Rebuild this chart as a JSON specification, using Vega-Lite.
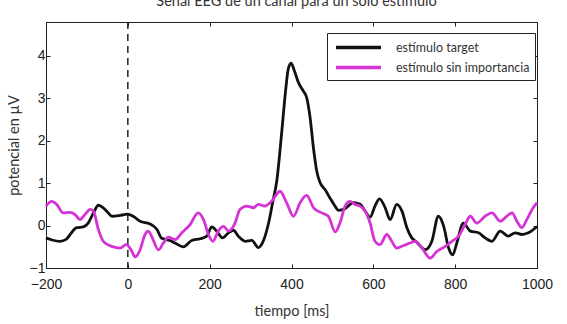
{
  "$schema": "https://vega.github.io/schema/vega-lite/v6.json",
  "width": 491,
  "height": 246,
  "autosize": {"type": "none"},
  "padding": {"left": 46, "top": 22, "right": 30, "bottom": 56},
  "background": "white",
  "title": {"text": "Señal EEG de un canal para un solo estímulo", "font": "Lato", "fontSize": 14.5, "fontWeight": "normal", "color": "#333", "offset": 12, "dx": 5},
  "config": {
    "view": {"stroke": "#222", "strokeWidth": 1},
    "axis": {"labelFont": "Liberation Sans", "labelFontSize": 14, "labelColor": "#222", "titleFont": "Lato", "titleFontSize": 14.5, "titleFontWeight": "normal", "titleColor": "#333", "grid": false, "domainColor": "#222", "tickColor": "#222", "tickSize": -4, "domain": true}
  },
  "datasets": {
    "eeg": [
      {"t": -200, "v": -0.29, "s": "estímulo target"},
      {"t": -185, "v": -0.34, "s": "estímulo target"},
      {"t": -166, "v": -0.37, "s": "estímulo target"},
      {"t": -150, "v": -0.32, "s": "estímulo target"},
      {"t": -141, "v": -0.21, "s": "estímulo target"},
      {"t": -125, "v": -0.05, "s": "estímulo target"},
      {"t": -109, "v": -0.03, "s": "estímulo target"},
      {"t": -97, "v": 0.06, "s": "estímulo target"},
      {"t": -84, "v": 0.3, "s": "estímulo target"},
      {"t": -72, "v": 0.48, "s": "estímulo target"},
      {"t": -60, "v": 0.42, "s": "estímulo target"},
      {"t": -48, "v": 0.3, "s": "estímulo target"},
      {"t": -39, "v": 0.22, "s": "estímulo target"},
      {"t": -19, "v": 0.24, "s": "estímulo target"},
      {"t": -1, "v": 0.27, "s": "estímulo target"},
      {"t": 13, "v": 0.22, "s": "estímulo target"},
      {"t": 30, "v": 0.1, "s": "estímulo target"},
      {"t": 54, "v": 0.04, "s": "estímulo target"},
      {"t": 71, "v": -0.09, "s": "estímulo target"},
      {"t": 83, "v": -0.3, "s": "estímulo target"},
      {"t": 103, "v": -0.35, "s": "estímulo target"},
      {"t": 115, "v": -0.41, "s": "estímulo target"},
      {"t": 136, "v": -0.5, "s": "estímulo target"},
      {"t": 156, "v": -0.35, "s": "estímulo target"},
      {"t": 177, "v": -0.31, "s": "estímulo target"},
      {"t": 193, "v": -0.25, "s": "estímulo target"},
      {"t": 205, "v": -0.03, "s": "estímulo target"},
      {"t": 217, "v": -0.13, "s": "estímulo target"},
      {"t": 231, "v": -0.29, "s": "estímulo target"},
      {"t": 246, "v": -0.17, "s": "estímulo target"},
      {"t": 258, "v": -0.11, "s": "estímulo target"},
      {"t": 270, "v": -0.25, "s": "estímulo target"},
      {"t": 287, "v": -0.37, "s": "estímulo target"},
      {"t": 303, "v": -0.35, "s": "estímulo target"},
      {"t": 319, "v": -0.52, "s": "estímulo target"},
      {"t": 329, "v": -0.41, "s": "estímulo target"},
      {"t": 344, "v": 0.06, "s": "estímulo target"},
      {"t": 354, "v": 0.55, "s": "estímulo target"},
      {"t": 364, "v": 1.05, "s": "estímulo target"},
      {"t": 376, "v": 2.19, "s": "estímulo target"},
      {"t": 386, "v": 3.22, "s": "estímulo target"},
      {"t": 392, "v": 3.69, "s": "estímulo target"},
      {"t": 399, "v": 3.83, "s": "estímulo target"},
      {"t": 407, "v": 3.65, "s": "estímulo target"},
      {"t": 417, "v": 3.37, "s": "estímulo target"},
      {"t": 429, "v": 3.17, "s": "estímulo target"},
      {"t": 437, "v": 3.02, "s": "estímulo target"},
      {"t": 445, "v": 2.58, "s": "estímulo target"},
      {"t": 454, "v": 1.8, "s": "estímulo target"},
      {"t": 462, "v": 1.27, "s": "estímulo target"},
      {"t": 470, "v": 1.01, "s": "estímulo target"},
      {"t": 482, "v": 0.85, "s": "estímulo target"},
      {"t": 494, "v": 0.65, "s": "estímulo target"},
      {"t": 505, "v": 0.48, "s": "estímulo target"},
      {"t": 515, "v": 0.36, "s": "estímulo target"},
      {"t": 531, "v": 0.4, "s": "estímulo target"},
      {"t": 551, "v": 0.54, "s": "estímulo target"},
      {"t": 568, "v": 0.5, "s": "estímulo target"},
      {"t": 580, "v": 0.34, "s": "estímulo target"},
      {"t": 592, "v": 0.2, "s": "estímulo target"},
      {"t": 604, "v": 0.46, "s": "estímulo target"},
      {"t": 615, "v": 0.63, "s": "estímulo target"},
      {"t": 629, "v": 0.42, "s": "estímulo target"},
      {"t": 641, "v": 0.14, "s": "estímulo target"},
      {"t": 657, "v": 0.5, "s": "estímulo target"},
      {"t": 670, "v": 0.34, "s": "estímulo target"},
      {"t": 682, "v": -0.05, "s": "estímulo target"},
      {"t": 694, "v": -0.29, "s": "estímulo target"},
      {"t": 706, "v": -0.39, "s": "estímulo target"},
      {"t": 727, "v": -0.57, "s": "estímulo target"},
      {"t": 743, "v": -0.37, "s": "estímulo target"},
      {"t": 759, "v": 0.22, "s": "estímulo target"},
      {"t": 772, "v": -0.02, "s": "estímulo target"},
      {"t": 784, "v": -0.53, "s": "estímulo target"},
      {"t": 794, "v": -0.69, "s": "estímulo target"},
      {"t": 804, "v": -0.41, "s": "estímulo target"},
      {"t": 820, "v": 0.06, "s": "estímulo target"},
      {"t": 837, "v": -0.13, "s": "estímulo target"},
      {"t": 857, "v": -0.17, "s": "estímulo target"},
      {"t": 873, "v": -0.29, "s": "estímulo target"},
      {"t": 890, "v": -0.37, "s": "estímulo target"},
      {"t": 910, "v": -0.13, "s": "estímulo target"},
      {"t": 930, "v": -0.25, "s": "estímulo target"},
      {"t": 947, "v": -0.17, "s": "estímulo target"},
      {"t": 963, "v": -0.21, "s": "estímulo target"},
      {"t": 979, "v": -0.17, "s": "estímulo target"},
      {"t": 1000, "v": -0.02, "s": "estímulo target"},
      {"t": -200, "v": 0.46, "s": "estímulo sin importancia"},
      {"t": -186, "v": 0.57, "s": "estímulo sin importancia"},
      {"t": -174, "v": 0.5, "s": "estímulo sin importancia"},
      {"t": -158, "v": 0.3, "s": "estímulo sin importancia"},
      {"t": -141, "v": 0.31, "s": "estímulo sin importancia"},
      {"t": -129, "v": 0.26, "s": "estímulo sin importancia"},
      {"t": -117, "v": 0.14, "s": "estímulo sin importancia"},
      {"t": -105, "v": 0.26, "s": "estímulo sin importancia"},
      {"t": -92, "v": 0.38, "s": "estímulo sin importancia"},
      {"t": -84, "v": 0.34, "s": "estímulo sin importancia"},
      {"t": -72, "v": -0.09, "s": "estímulo sin importancia"},
      {"t": -60, "v": -0.37, "s": "estímulo sin importancia"},
      {"t": -39, "v": -0.49, "s": "estímulo sin importancia"},
      {"t": -19, "v": -0.53, "s": "estímulo sin importancia"},
      {"t": -4, "v": -0.45, "s": "estímulo sin importancia"},
      {"t": 10, "v": -0.61, "s": "estímulo sin importancia"},
      {"t": 18, "v": -0.74, "s": "estímulo sin importancia"},
      {"t": 30, "v": -0.57, "s": "estímulo sin importancia"},
      {"t": 42, "v": -0.21, "s": "estímulo sin importancia"},
      {"t": 50, "v": -0.13, "s": "estímulo sin importancia"},
      {"t": 58, "v": -0.25, "s": "estímulo sin importancia"},
      {"t": 75, "v": -0.57, "s": "estímulo sin importancia"},
      {"t": 87, "v": -0.41, "s": "estímulo sin importancia"},
      {"t": 99, "v": -0.27, "s": "estímulo sin importancia"},
      {"t": 115, "v": -0.33, "s": "estímulo sin importancia"},
      {"t": 132, "v": -0.17, "s": "estímulo sin importancia"},
      {"t": 152, "v": 0.02, "s": "estímulo sin importancia"},
      {"t": 172, "v": 0.3, "s": "estímulo sin importancia"},
      {"t": 185, "v": 0.14, "s": "estímulo sin importancia"},
      {"t": 197, "v": -0.21, "s": "estímulo sin importancia"},
      {"t": 208, "v": -0.37, "s": "estímulo sin importancia"},
      {"t": 221, "v": -0.13, "s": "estímulo sin importancia"},
      {"t": 234, "v": -0.02, "s": "estímulo sin importancia"},
      {"t": 246, "v": -0.13, "s": "estímulo sin importancia"},
      {"t": 262, "v": 0.06, "s": "estímulo sin importancia"},
      {"t": 274, "v": 0.38, "s": "estímulo sin importancia"},
      {"t": 291, "v": 0.46, "s": "estímulo sin importancia"},
      {"t": 307, "v": 0.42, "s": "estímulo sin importancia"},
      {"t": 319, "v": 0.5, "s": "estímulo sin importancia"},
      {"t": 335, "v": 0.46, "s": "estímulo sin importancia"},
      {"t": 352, "v": 0.58, "s": "estímulo sin importancia"},
      {"t": 372, "v": 0.81, "s": "estímulo sin importancia"},
      {"t": 388, "v": 0.54, "s": "estímulo sin importancia"},
      {"t": 405, "v": 0.22, "s": "estímulo sin importancia"},
      {"t": 421, "v": 0.54, "s": "estímulo sin importancia"},
      {"t": 437, "v": 0.71, "s": "estímulo sin importancia"},
      {"t": 454, "v": 0.42, "s": "estímulo sin importancia"},
      {"t": 474, "v": 0.3, "s": "estímulo sin importancia"},
      {"t": 490, "v": 0.22, "s": "estímulo sin importancia"},
      {"t": 507, "v": -0.15, "s": "estímulo sin importancia"},
      {"t": 519, "v": 0.08, "s": "estímulo sin importancia"},
      {"t": 531, "v": 0.46, "s": "estímulo sin importancia"},
      {"t": 543, "v": 0.57, "s": "estímulo sin importancia"},
      {"t": 555, "v": 0.5, "s": "estímulo sin importancia"},
      {"t": 568, "v": 0.46, "s": "estímulo sin importancia"},
      {"t": 580, "v": 0.34, "s": "estímulo sin importancia"},
      {"t": 592, "v": 0.06, "s": "estímulo sin importancia"},
      {"t": 604, "v": -0.37, "s": "estímulo sin importancia"},
      {"t": 616, "v": -0.45, "s": "estímulo sin importancia"},
      {"t": 633, "v": -0.21, "s": "estímulo sin importancia"},
      {"t": 645, "v": -0.37, "s": "estímulo sin importancia"},
      {"t": 657, "v": -0.53, "s": "estímulo sin importancia"},
      {"t": 674, "v": -0.47, "s": "estímulo sin importancia"},
      {"t": 690, "v": -0.41, "s": "estímulo sin importancia"},
      {"t": 702, "v": -0.37, "s": "estímulo sin importancia"},
      {"t": 719, "v": -0.53, "s": "estímulo sin importancia"},
      {"t": 739, "v": -0.77, "s": "estímulo sin importancia"},
      {"t": 755, "v": -0.61, "s": "estímulo sin importancia"},
      {"t": 776, "v": -0.49, "s": "estímulo sin importancia"},
      {"t": 792, "v": -0.37, "s": "estímulo sin importancia"},
      {"t": 808, "v": -0.25, "s": "estímulo sin importancia"},
      {"t": 824, "v": 0.02, "s": "estímulo sin importancia"},
      {"t": 837, "v": 0.22, "s": "estímulo sin importancia"},
      {"t": 853, "v": 0.06, "s": "estímulo sin importancia"},
      {"t": 873, "v": 0.22, "s": "estímulo sin importancia"},
      {"t": 890, "v": 0.3, "s": "estímulo sin importancia"},
      {"t": 910, "v": 0.1, "s": "estímulo sin importancia"},
      {"t": 926, "v": 0.22, "s": "estímulo sin importancia"},
      {"t": 939, "v": 0.3, "s": "estímulo sin importancia"},
      {"t": 951, "v": 0.1, "s": "estímulo sin importancia"},
      {"t": 963, "v": -0.05, "s": "estímulo sin importancia"},
      {"t": 975, "v": 0.14, "s": "estímulo sin importancia"},
      {"t": 988, "v": 0.38, "s": "estímulo sin importancia"},
      {"t": 1000, "v": 0.54, "s": "estímulo sin importancia"}
    ],
    "marker": [{"t": 0}]
  },
  "resolve": {"axis": {"x": "independent", "y": "independent"}},
  "layer": [
    {
      "data": {"name": "marker"},
      "mark": {"type": "rule", "color": "#222", "strokeWidth": 1.5, "strokeDash": [7, 5]},
      "encoding": {
        "x": {"field": "t", "type": "quantitative", "scale": {"domain": [-200, 1000], "nice": false}, "axis": null}
      }
    },
    {
      "data": {"name": "eeg"},
      "mark": {"type": "line", "interpolate": "monotone", "strokeWidth": 2.8},
      "encoding": {
        "x": {"field": "t", "type": "quantitative", "scale": {"domain": [-200, 1000], "nice": false}, "axis": {"title": "tiempo [ms]", "values": [-200, 0, 200, 400, 600, 800, 1000], "format": "d", "labelPadding": 13, "titlePadding": 13, "labelFlush": false, "labelExpr": "replace(datum.label, '-', '\u2212')"}},
        "y": {"field": "v", "type": "quantitative", "scale": {"domain": [-1, 4.8], "nice": false, "zero": false}, "axis": {"title": "potencial en µV", "values": [-1, 0, 1, 2, 3, 4], "labelPadding": 5, "titlePadding": 8, "labelFlush": false, "labelExpr": "replace(datum.label, '-', '\u2212')"}},
        "color": {"field": "s", "type": "nominal", "scale": {"domain": ["estímulo target", "estímulo sin importancia"], "range": ["#111111", "#d633d6"]},
          "legend": {"title": null, "orient": "none", "legendX": 281, "legendY": 11, "strokeColor": "#222", "fillColor": "white", "padding": 5, "symbolType": "M-3,0H3", "symbolSize": 225, "symbolOffset": 17, "symbolStrokeWidth": 3.5, "labelFont": "Lato", "labelFontSize": 12.5, "labelColor": "#333", "labelOffset": 28, "rowPadding": 3, "cornerRadius": 0}},
        "detail": {"field": "s"}
      }
    },
    {
      "data": {"name": "marker"},
      "mark": {"type": "point", "opacity": 0},
      "encoding": {
        "x": {"field": "t", "type": "quantitative", "scale": {"domain": [-200, 1000], "nice": false}, "axis": {"orient": "top", "title": null, "labels": false, "domain": false, "values": [-200, 0, 200, 400, 600, 800, 1000]}},
        "y": {"datum": 0, "type": "quantitative", "scale": {"domain": [-1, 4.8], "nice": false, "zero": false}, "axis": {"orient": "right", "title": null, "labels": false, "domain": false, "values": [-1, 0, 1, 2, 3, 4]}}
      }
    }
  ]
}
